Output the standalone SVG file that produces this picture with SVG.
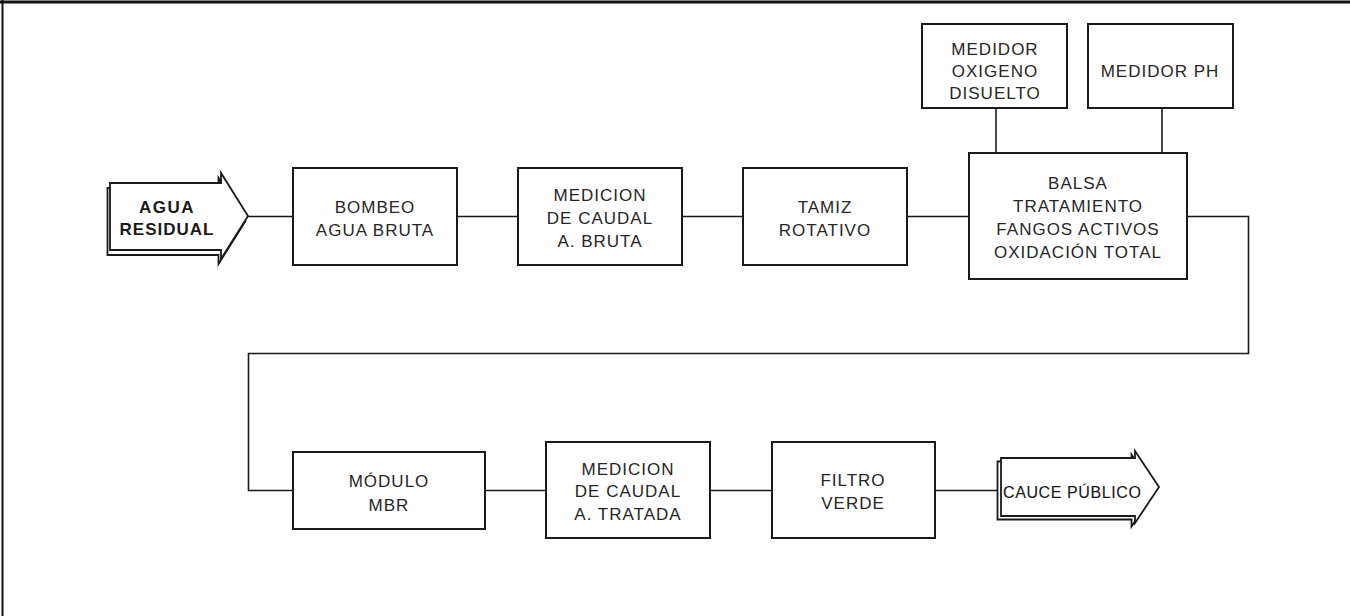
<svg xmlns="http://www.w3.org/2000/svg" width="1350" height="616" viewBox="0 0 1350 616">
  <style>
    .box { fill: #fff; stroke: #1a1a1a; stroke-width: 2; }
    .wire { fill: none; stroke: #1a1a1a; stroke-width: 1.6; }
    .arrow { fill: #fff; stroke: #1a1a1a; stroke-width: 1.8; stroke-linejoin: miter; }
    .lbl { font-family: "Liberation Sans", Arial, sans-serif; font-size: 17px; fill: #262626; text-anchor: middle; letter-spacing: 1px; }
    .bold { font-weight: bold; fill: #1a1a1a; }
  </style>
  <rect x="0" y="0" width="1350" height="616" fill="#fff"/>
  <!-- frame: top and left edges -->
  <line x1="0" y1="2" x2="1350" y2="2" stroke="#111" stroke-width="3"/>
  <line x1="2.5" y1="0" x2="2.5" y2="616" stroke="#111" stroke-width="2"/>

  <g id="connectors">
    <line class="wire" x1="248" y1="216.5" x2="293" y2="216.5"/>
    <line class="wire" x1="457" y1="216.5" x2="518" y2="216.5"/>
    <line class="wire" x1="682" y1="216.5" x2="743" y2="216.5"/>
    <line class="wire" x1="907" y1="216.5" x2="969" y2="216.5"/>
    <polyline class="wire" points="1187,216.5 1248.5,216.5 1248.5,353.5 248.5,353.5 248.5,490.5 293,490.5"/>
    <line class="wire" x1="996" y1="108" x2="996" y2="153"/>
    <line class="wire" x1="1162" y1="108" x2="1162" y2="153"/>
    <line class="wire" x1="485" y1="490.5" x2="546" y2="490.5"/>
    <line class="wire" x1="710" y1="490.5" x2="772" y2="490.5"/>
    <line class="wire" x1="935" y1="490.5" x2="998" y2="490.5"/>
  </g>

  <g id="agua-residual">
    <polygon class="arrow" transform="translate(-2.5,5)" points="110,183 221,183 221,173 248,216 221,259 221,250 110,250"/>
    <polygon class="arrow" points="110,183 221,183 221,173 248,216 221,259 221,250 110,250"/>
    <text class="lbl bold" x="167" y="213" style="letter-spacing:1.5px">AGUA</text>
    <text class="lbl bold" x="167" y="235">RESIDUAL</text>
  </g>

  <g id="bombeo">
    <rect class="box" x="293" y="168" width="164" height="97"/>
    <text class="lbl" x="375" y="213">BOMBEO</text>
    <text class="lbl" x="375" y="236">AGUA BRUTA</text>
  </g>

  <g id="medicion-bruta">
    <rect class="box" x="518" y="168" width="164" height="97"/>
    <text class="lbl" x="600" y="201">MEDICION</text>
    <text class="lbl" x="600" y="224">DE CAUDAL</text>
    <text class="lbl" x="600" y="247">A. BRUTA</text>
  </g>

  <g id="tamiz">
    <rect class="box" x="743" y="168" width="164" height="97"/>
    <text class="lbl" x="825" y="213">TAMIZ</text>
    <text class="lbl" x="825" y="236">ROTATIVO</text>
  </g>

  <g id="balsa">
    <rect class="box" x="969" y="153" width="218" height="126"/>
    <text class="lbl" x="1078" y="189">BALSA</text>
    <text class="lbl" x="1078" y="212">TRATAMIENTO</text>
    <text class="lbl" x="1078" y="235">FANGOS ACTIVOS</text>
    <text class="lbl" x="1078" y="258">OXIDACIÓN TOTAL</text>
  </g>

  <g id="medidor-oxigeno">
    <rect class="box" x="922" y="24" width="145" height="84"/>
    <text class="lbl" x="995" y="55">MEDIDOR</text>
    <text class="lbl" x="995" y="77">OXIGENO</text>
    <text class="lbl" x="995" y="99">DISUELTO</text>
  </g>

  <g id="medidor-ph">
    <rect class="box" x="1088" y="24" width="145" height="84"/>
    <text class="lbl" x="1160" y="77">MEDIDOR PH</text>
  </g>

  <g id="modulo-mbr">
    <rect class="box" x="293" y="452" width="192" height="77"/>
    <text class="lbl" x="389" y="487">MÓDULO</text>
    <text class="lbl" x="389" y="511">MBR</text>
  </g>

  <g id="medicion-tratada">
    <rect class="box" x="546" y="442" width="164" height="96"/>
    <text class="lbl" x="628" y="475">MEDICION</text>
    <text class="lbl" x="628" y="497">DE CAUDAL</text>
    <text class="lbl" x="628" y="520">A. TRATADA</text>
  </g>

  <g id="filtro-verde">
    <rect class="box" x="772" y="442" width="163" height="96"/>
    <text class="lbl" x="853" y="486">FILTRO</text>
    <text class="lbl" x="853" y="509">VERDE</text>
  </g>

  <g id="cauce-publico">
    <polygon class="arrow" transform="translate(-3.5,3.5)" points="1001,458 1135,458 1135,451 1159,487 1135,523 1135,516 1001,516"/>
    <polygon class="arrow" points="1001,458 1135,458 1135,451 1159,487 1135,523 1135,516 1001,516"/>
    <text class="lbl" x="1003" y="498" style="text-anchor:start;font-size:16px;letter-spacing:0.6px;fill:#1a1a1a;stroke:#1a1a1a;stroke-width:0.15">CAUCE PÚBLICO</text>
  </g>
</svg>
